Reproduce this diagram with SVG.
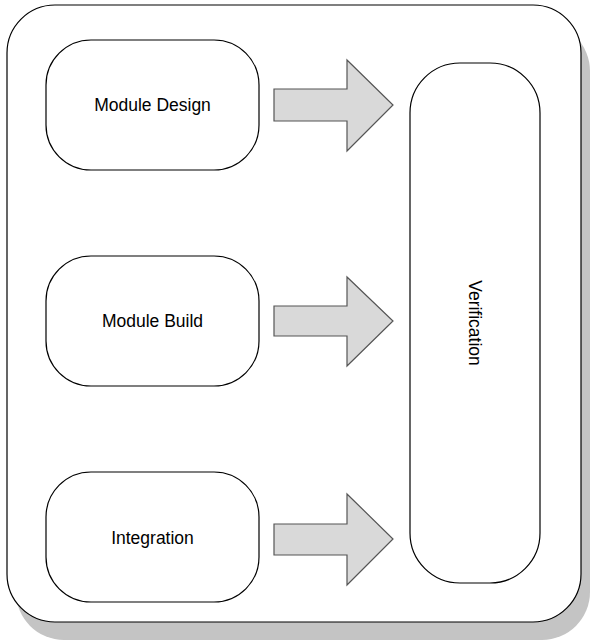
<svg xmlns="http://www.w3.org/2000/svg" width="596" height="641" viewBox="0 0 596 641">
<style>
.box{fill:#fff;stroke:#000;stroke-width:1.2}
.arrow{fill:#d9d9d9;stroke:#555;stroke-width:1.2;stroke-linejoin:miter}
.lbl{font-family:"Liberation Sans",Arial,sans-serif;font-size:17.5px;fill:#000;text-anchor:middle}
</style>
<g id="container">
<rect x="16" y="23" width="574" height="617" rx="48" ry="48" fill="#c4c4c4"/>
<rect class="box" x="7" y="5" width="574" height="617" rx="48" ry="48"/>
</g>
<g id="module-design">
<rect class="box" x="46" y="40" width="213" height="130" rx="45" ry="45"/>
<text class="lbl" x="152.5" y="111">Module Design</text>
</g>
<g id="module-build">
<rect class="box" x="46" y="256" width="213" height="130" rx="45" ry="45"/>
<text class="lbl" x="152.5" y="327">Module Build</text>
</g>
<g id="integration">
<rect class="box" x="46" y="472" width="213" height="130" rx="45" ry="45"/>
<text class="lbl" x="152.5" y="544">Integration</text>
</g>
<g id="verification">
<rect class="box" x="410" y="63" width="130" height="520" rx="50" ry="50"/>
<text class="lbl" transform="translate(475,323) rotate(90)" x="0" y="6">Verification</text>
</g>
<g id="connectors">
<polygon class="arrow" points="274,89 347,89 347,60 393,105 347,151 347,121 274,121"/>
<polygon class="arrow" points="274,306 347,306 347,277 393,321 347,366 347,336 274,336"/>
<polygon class="arrow" points="274,524 347,524 347,494 393,539 347,585 347,555 274,555"/>
</g>
</svg>
